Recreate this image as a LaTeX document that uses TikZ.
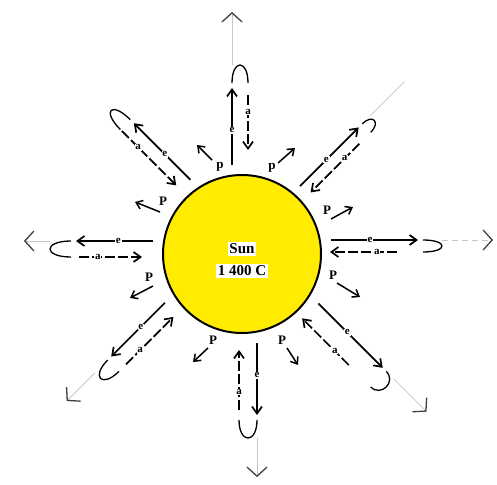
\documentclass[tikz,border=0pt]{standalone}
\usepackage{fontspec}
\setmainfont{Liberation Serif}
\definecolor{sunyellow}{HTML}{FFEC00}
\usetikzlibrary{positioning, calc, arrows.meta}
\tikzset{
	sunnode/.style={
			circle,
			draw=black,
			line width=2pt,
			fill=sunyellow,
			minimum size=158pt,
			inner sep=0pt
		},
	sunlabel/.style={
			fill=white,
			inner sep=1.5pt,
			font=\bfseries\fontsize{15}{17}\selectfont
		},
	raylabel/.style={
			fill=white,
			inner sep=0.8pt,
			font=\bfseries\fontsize{11}{12}\selectfont
		},
	plabel/.style={
			inner sep=0pt,
			font=\bfseries\fontsize{13}{14}\selectfont
		},
	emitline/.style={
			line width=1.7pt,
			-{Straight Barb[length=7pt,width=10pt]}
		},
	absorbline/.style={
			line width=1.7pt,
			dash pattern=on 10pt off 3pt,
			-{Straight Barb[length=7pt,width=10pt]}
		},
	turnline/.style={
			line width=1.3pt
		},
	parrow/.style={
			line width=1.5pt,
			-{Straight Barb[length=6pt,width=9pt]}
		},
	farray/.style={
			draw=gray!45,
			line width=0.8pt,
			-{Straight Barb[length=9pt,width=20pt,line width=1.3pt,color=black!75]}
		},
	farrayd/.style={
			farray,
			dash pattern=on 6pt off 4pt
		},
	fline/.style={
			draw=gray!45,
			line width=0.8pt
		},
	noray/.style={
			draw=none
		}
}
\begin{document}
\begin{tikzpicture}[x=1pt, y=-1pt]
\useasboundingbox (0,0) rectangle (497,484);
\node[sunnode] (sun) at (242,254) {};
\node[sunlabel] (sunname) at (242,249) {Sun};
\node[sunlabel] (suntemp) at (242,271) {1 400 C};

% rays: angle / e offset / a offset / e end / a start / a end / turn / far end / far style
\foreach \ang/\eo/\ao/\re/\ras/\rae/\ru/\rg/\gs [count=\i] in {
		0/14/2/176/155/88/200/251/farrayd,
		45/7/-5/172/161/92/188/237/fline,
		90/10/-6/166/159/104/189/242/farray,
		135/-16/-2/169/172/95/194/200/noray,
		180/-13/3/166/163/100/192/218/farray,
		225/-20/-4/165/160/93/188/228/farray,
		270/15/-3/161/156/96/184/223/farray,
		315/19/-3/180/154/88/196/242/farray}{
	\pgfmathsetmacro\rz{\re+5}
	\pgfmathsetmacro\rk{(\ru-\rz)*4/3}
	\coordinate (es\i) at ($(sun.center)+(\ang:89pt)+(\ang+90:\eo pt)$);
	\coordinate (ee\i) at ($(sun.center)+(\ang:\re pt)+(\ang+90:\eo pt)$);
	\coordinate (as\i) at ($(sun.center)+(\ang:\ras pt)+(\ang+90:\ao pt)$);
	\coordinate (ae\i) at ($(sun.center)+(\ang:\rae pt)+(\ang+90:\ao pt)$);
	\coordinate (ua\i) at ($(sun.center)+(\ang:\rz pt)+(\ang+90:\eo pt)$);
	\coordinate (ub\i) at ($(sun.center)+(\ang:\rz pt)+(\ang+90:\ao pt)$);
	\coordinate (uc\i) at ($(ua\i)+(\ang:\rk pt)$);
	\coordinate (ud\i) at ($(ub\i)+(\ang:\rk pt)$);
	\coordinate (ga\i) at ($(sun.center)+(\ang:\ru pt)+(\ang+90:\eo pt)$);
	\coordinate (gb\i) at ($(sun.center)+(\ang:\rg pt)+(\ang+90:\eo pt)$);

	\draw[emitline] (es\i) -- node[raylabel, pos=.45] (el\i) {e} (ee\i);
	\draw[absorbline] (as\i) -- node[raylabel, pos=.3] (al\i) {a} (ae\i);
	\draw[turnline] (ua\i) .. controls (uc\i) and (ud\i) .. (ub\i);
	\draw[\gs] (ga\i) -- (gb\i);
}

% photons
\foreach \tx/\ty/\hx/\hy/\lx/\ly/\t [count=\i] in {
		212/160/197/145/220/167/p,
		278/163/295/148/272/168/p,
		331/219/353/207/327/210/P,
		337/283/360/297/333/275/P,
		287/348/298/365/282/340/P,
		208/348/193/362/213/340/P,
		153/286/130/298/149/277/P,
		160/212/135/202/163/201/P}{
	\node[plabel] (p\i) at (\lx,\ly) {\t};
	\coordinate (pa\i) at (\tx,\ty);
	\coordinate (pb\i) at (\hx,\hy);
	\draw[parrow] (pa\i) -- (pb\i);
}

\end{tikzpicture}
\end{document}
